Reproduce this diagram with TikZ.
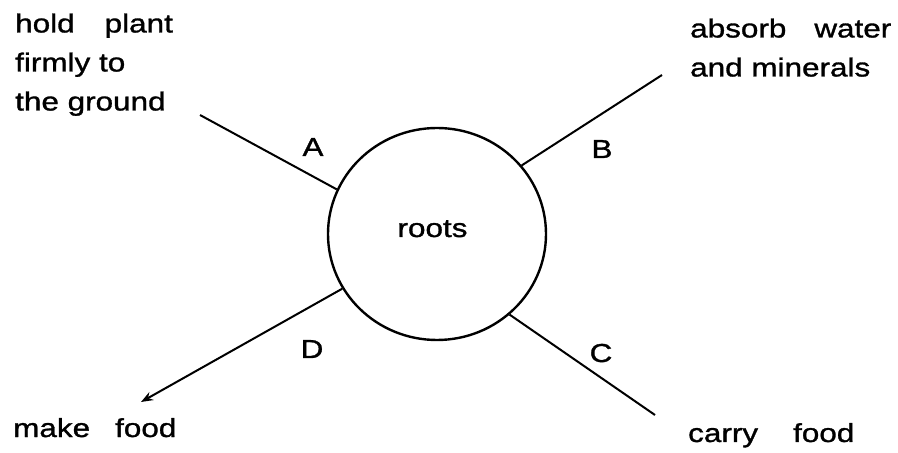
\documentclass[tikz,border=0pt]{standalone}
\usepackage{fontspec}
\newfontfamily\lbl[FakeStretch=1.21,FakeBold=1.2]{Liberation Sans}
\usetikzlibrary{arrows.meta,shapes.geometric}
\begin{document}
\begin{tikzpicture}[x=1pt,y=1pt,
  txt/.style={font=\lbl\fontsize{26}{39}\selectfont, inner sep=0pt, align=left},
  letter/.style={font=\lbl\fontsize{26}{39}\selectfont, inner sep=0pt, anchor=base},
  conn/.style={line width=2pt},
  hub/.style={ellipse, draw, line width=2.4pt, minimum width=218pt, minimum height=212pt, inner sep=0pt}]
\useasboundingbox (0,0) rectangle (898,453);
\node[hub] (roots) at (437,219) {};
\node[letter] (rootslbl) at (432.5,216) {roots};

\coordinate (ea) at (200,338);
\coordinate (eb) at (662,378);
\coordinate (ec) at (655,38);
\coordinate (ed) at (141,51);

\draw[conn] (roots.156) -- (ea);
\draw[conn] (roots.39) -- (eb);
\draw[conn] (roots.-48) -- (ec);
\draw[conn, -{Stealth[length=12pt,width=9pt]}] (roots.210) -- (ed);

\node[letter] (la) at (313,297) {A};
\node[letter] (lb) at (602,295) {B};
\node[letter] (lc) at (601,91) {C};
\node[letter] (ld) at (312,95) {D};

\node[txt, anchor=north west] (tA) at (15,439.6) {hold\hspace{30pt}plant\\firmly to\\the ground};
\node[txt, anchor=north west] (tB) at (690,434.6) {absorb\hspace{28pt}water\\and minerals};
\node[txt, anchor=base west] (tD) at (13,16) {make\hspace{25pt}food};
\node[txt, anchor=base west] (tC) at (688,11) {carry\hspace{35pt}food};
\end{tikzpicture}
\end{document}
